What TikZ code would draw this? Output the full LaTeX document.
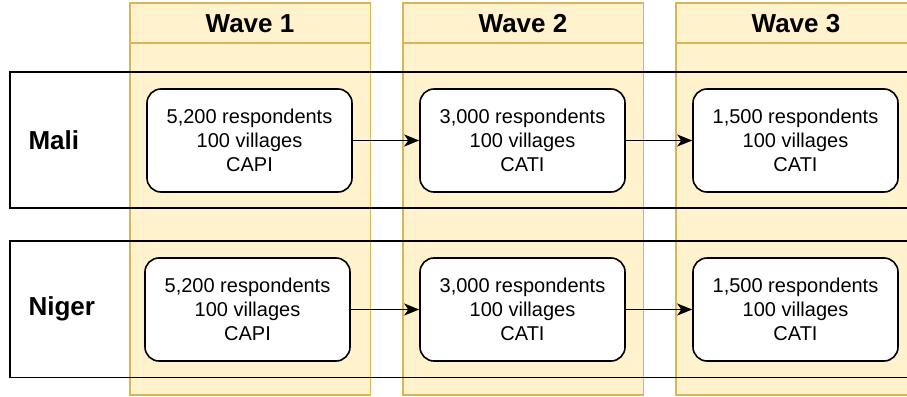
\documentclass[tikz,border=0pt]{standalone}
\usepackage{fontspec}
\setmainfont{Liberation Sans}
\usetikzlibrary{arrows.meta}
\definecolor{wavefill}{HTML}{FFF2CC}
\definecolor{waveline}{HTML}{D6B656}
\begin{document}
\begin{tikzpicture}[x=1pt,y=-1pt,
	wavecol/.style={draw=waveline,fill=wavefill,line width=1.2pt},
	wavehead/.style={font=\fontsize{26}{30}\selectfont\bfseries},
	country/.style={draw=black,line width=1.6pt},
	countrylabel/.style={anchor=west,font=\fontsize{26}{30}\selectfont\bfseries},
	sample/.style={draw=black,fill=white,line width=1.6pt,rounded corners=14pt,minimum width=205pt,minimum height=103pt,inner sep=0pt,align=center,font=\fontsize{20}{24}\selectfont},
	link/.style={draw=black,line width=1.6pt,-{Stealth[length=15pt,width=12pt,inset=4pt]}}]
		\useasboundingbox (0,0) rectangle (907,396);
		\clip (0,0) rectangle (907,396);
		\draw [wavecol] (130,3) rectangle (370.5,395);
		\draw [waveline,line width=1.2pt] (130,43) -- (370.5,43);
		\draw [wavecol] (403,3) rectangle (643.5,395);
		\draw [waveline,line width=1.2pt] (403,43) -- (643.5,43);
		\draw [wavecol] (676,3) rectangle (916.5,395);
		\draw [waveline,line width=1.2pt] (676,43) -- (916.5,43);
		\node [wavehead] (head1) at (250,24) {Wave 1};
		\node [wavehead] (head2) at (523,24) {Wave 2};
		\node [wavehead] (head3) at (796,24) {Wave 3};
		\draw [country] (10,72) rectangle (940,208);
		\draw [country] (10,241) rectangle (940,377.5);
		\node [countrylabel] (mali) at (25,140) {Mali};
		\node [countrylabel] (niger) at (25,309) {Niger};
		\node [sample] (mali1) at (249.5,140.5) {5,200 respondents\\100 villages\\CAPI};
		\node [sample] (mali2) at (522.5,140.5) {3,000 respondents\\100 villages\\CATI};
		\node [sample] (mali3) at (795.5,140.5) {1,500 respondents\\100 villages\\CATI};
		\node [sample] (niger1) at (247.5,309.5) {5,200 respondents\\100 villages\\CAPI};
		\node [sample] (niger2) at (522.5,309.5) {3,000 respondents\\100 villages\\CATI};
		\node [sample] (niger3) at (795.5,309.5) {1,500 respondents\\100 villages\\CATI};
		\draw [link] (mali1) -- (mali2);
		\draw [link] (mali2) -- (mali3);
		\draw [link] (niger1) -- (niger2);
		\draw [link] (niger2) -- (niger3);
	\end{tikzpicture}
\end{document}
